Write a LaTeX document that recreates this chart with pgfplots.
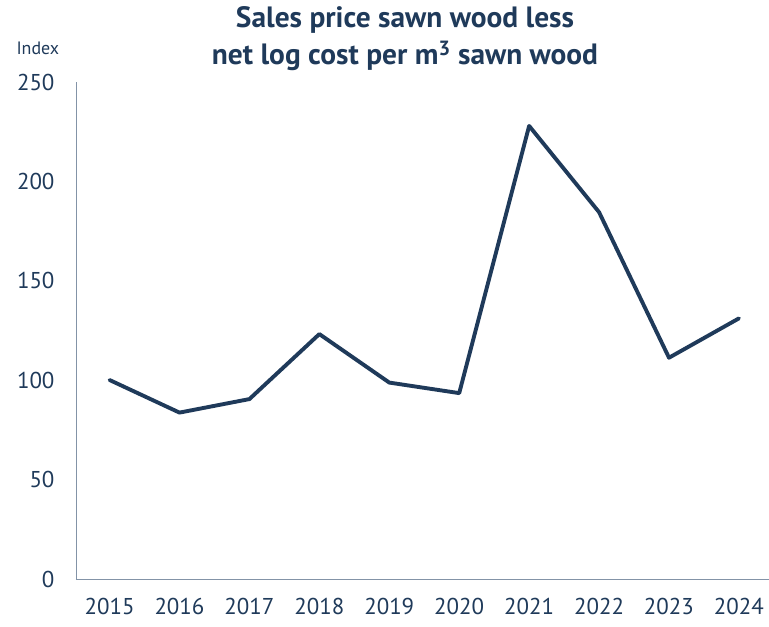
\documentclass[border=0pt]{standalone}
\usepackage{pgfplots}
\pgfplotsset{compat=1.18}
\usepackage{fontspec}
\setmainfont{PT Sans}
\definecolor{navy}{HTML}{1F3A5A}
\definecolor{axgray}{HTML}{8393A7}
\begin{document}
\begin{tikzpicture}
\useasboundingbox (-76bp,-48bp) rectangle (693bp,579bp);
\begin{axis}[
  at={(0,0)}, anchor=south west,
  scale only axis, width=693bp, height=497bp,
  xmin=2014.52, xmax=2024.43, ymin=0, ymax=250,
  axis x line=bottom, axis y line=left,
  axis line style={draw=axgray, line width=0.8pt, -},
  xtick={2015,...,2024}, ytick={0,50,...,250},
  major tick length=0pt,
  xticklabel style={yshift=-16bp},
  yticklabel style={xshift=-18bp},
  /pgf/number format/assume math mode=true,
  /pgf/number format/1000 sep={},
  ticklabel style={font=\fontsize{23}{26}\selectfont, text=navy},
  clip=false,
]
\addplot[navy, line width=3.9pt, line join=round, line cap=round] coordinates {
(2015,100.1) (2016,83.7) (2017,90.5) (2018,123.2) (2019,98.8)
(2020,93.5) (2021,227.9) (2022,184.5) (2023,111.3) (2024,131.1)};
\end{axis}
\node[text=navy, font=\fontsize{18}{20}\selectfont, anchor=west] at (-63bp,531bp) {Index};
\node[text=navy, font=\bfseries\fontsize{29.5}{37}\selectfont, align=center] at (329bp,540bp) {Sales price sawn wood less\\net log cost per m\textsuperscript{3} sawn wood};
\end{tikzpicture}
\end{document}
